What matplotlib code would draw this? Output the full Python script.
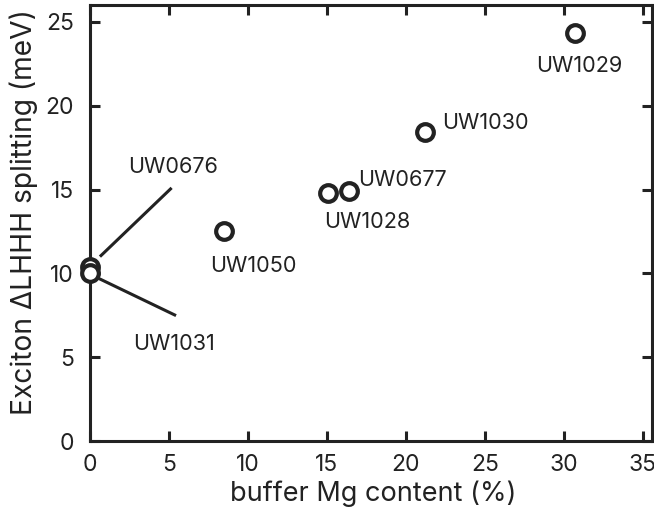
import matplotlib
matplotlib.use("Agg")
import matplotlib.pyplot as plt

plt.rcParams['font.family'] = ['Inter', 'DejaVu Sans']

names = ["UW0676", "UW1031", "UW1050", "UW1028", "UW0677", "UW1030", "UW1029"]
mg = [0.0, 0.0, 8.5, 15.1, 16.4, 21.2, 30.7]
split = [10.4, 10.0, 12.55, 14.8, 14.9, 18.45, 24.35]

# label positions (data coords, baseline) and alignment
label_xy = [(5.24, 16.0), (5.33, 5.45), (10.33, 10.07), (17.57, 12.7), (17.0, 15.22), (22.3, 18.6), (31.0, 22.0)]
label_ha = ["center", "center", "center", "center", "left", "left", "center"]
# leader lines for the two overlapping points
lead_from = {"UW0676": (0.63, 11.0), "UW1031": (0.55, 9.7)}
lead_to = {"UW0676": (5.17, 15.1), "UW1031": (5.45, 7.48)}

xticks = [0, 5, 10, 15, 20, 25, 30, 35]
yticks = [0, 5, 10, 15, 20, 25]

fig = plt.figure(figsize=(6.54, 5.17), dpi=100)
ax = fig.add_axes([0.1376, 0.147, 0.8595, 0.843])
ink = "#222222"

for n in lead_from:
    (x0, y0), (x1, y1) = lead_from[n], lead_to[n]
    ax.plot([x0, x1], [y0, y1], color=ink, lw=2.2, solid_capstyle='butt', zorder=2)

ax.plot(mg, split, linestyle='none', marker='o', markersize=12, markerfacecolor='white',
        markeredgecolor=ink, markeredgewidth=3.0, zorder=3, clip_on=False)

for n, (tx, ty), ha in zip(names, label_xy, label_ha):
    ax.text(tx, ty, n, ha=ha, va='baseline', fontsize=15.6, color=ink)

ax.set_xlim(0, 35.6)
ax.set_ylim(0, 26)
ax.set_xticks(xticks)
ax.set_yticks(yticks)
for s in ax.spines.values():
    s.set_linewidth(2.2)
    s.set_color(ink)
ax.tick_params(direction='in', length=7, width=2.2, colors=ink, labelsize=16.5,
               top=True, right=True)
ax.tick_params(axis='x', pad=9)
ax.tick_params(axis='y', pad=11.5)
ax.set_xlabel("buffer Mg content (%)", fontsize=19.5, color=ink)
ax.set_ylabel("Exciton ΔLHHH splitting (meV)", fontsize=20.3, color=ink)
ax.xaxis.set_label_coords(0.503, -0.09)
ax.yaxis.set_label_coords(-0.093, 0.525)

fig.savefig("out.png", dpi=100)
